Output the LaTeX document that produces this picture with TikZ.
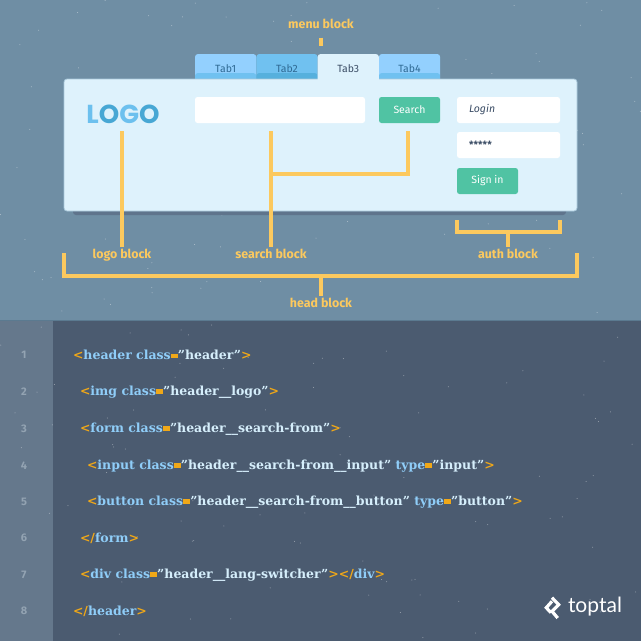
\documentclass[tikz,border=0pt]{standalone}
\usepackage{fontspec}
\usetikzlibrary{positioning}
\setsansfont{Fira Sans}
\newfontfamily\codefont{DejaVu Serif}
\newfontfamily\logofont{Poppins}
\newfontfamily\brandfont{Lato}

\definecolor{topbg}{HTML}{6F8EA4}
\definecolor{codebg}{HTML}{4B5B70}
\definecolor{gutterbg}{HTML}{65788C}
\definecolor{rulebg}{HTML}{5B7A90}
\definecolor{panelbg}{HTML}{DEF2FC}
\definecolor{panelrim}{HTML}{A9C8DA}
\definecolor{panelshade}{HTML}{5F748C}
\definecolor{tabA}{HTML}{93D0FE}
\definecolor{tabB}{HTML}{70C1F0}
\definecolor{tabC}{HTML}{56B0DD}
\definecolor{tabink}{HTML}{2F6A94}
\definecolor{darkink}{HTML}{3C4E66}
\definecolor{btn}{HTML}{50C3A3}
\definecolor{mark}{HTML}{FCC95E}
\definecolor{logoA}{HTML}{6CC0EE}
\definecolor{logoB}{HTML}{47A7D4}
\definecolor{brk}{HTML}{F0A818}
\definecolor{tagc}{HTML}{8FCDF8}
\definecolor{valc}{HTML}{D5EEFB}
\definecolor{numc}{HTML}{93A3B2}

\newcommand{\brk}[1]{\textcolor{brk}{#1}}
\newcommand{\tagc}[1]{\textcolor{tagc}{#1}}
\newcommand{\valc}[1]{\textcolor{valc}{#1}}
\newcommand{\eqbar}{\brk{\fontsize{8.5}{8}\selectfont\rlap{\rule[1.2pt]{7pt}{4.8pt}}=}}

\begin{document}
\begin{tikzpicture}[x=1pt,y=-1pt,font=\sffamily,
                    inner sep=0pt,outer sep=0pt]
  \tikzstyle{tabbox}=[minimum width=61.3pt,minimum height=29pt,rounded corners=3pt,
                      font=\sffamily\fontsize{10.5}{12}\selectfont]
  \tikzstyle{field}=[fill=white,rounded corners=2.5pt,minimum height=26pt]
  \tikzstyle{greenbtn}=[fill=btn,rounded corners=2.5pt,minimum height=26pt,
                        minimum width=61pt,text=white,
                        font=\sffamily\fontsize{10.5}{12}\selectfont]
  \tikzstyle{blocklabel}=[text=mark,inner sep=2pt,text height=9pt,text depth=3pt,
                          font=\sffamily\bfseries\fontsize{12.4}{14}\selectfont]
  \tikzstyle{blockline}=[draw=mark,line width=4pt]
  \tikzstyle{codeline}=[anchor=west,font=\codefont\bfseries\fontsize{12.5}{14}\selectfont]
  \tikzstyle{lineno}=[text=numc,font=\sffamily\bfseries\fontsize{11}{12}\selectfont]
  \tikzset{band/.style={path picture={\fill[#1] (path picture bounding box.south west)
      rectangle ([yshift=10pt]path picture bounding box.south east);}}}

  \useasboundingbox (0,0) rectangle (641,641);
  \fill[topbg] (0,0) rectangle (641,320);
  \fill[codebg] (0,320) rectangle (641,641);
  \fill[gutterbg] (0,320) rectangle (53,641);
  \fill[rulebg] (0,319.5) rectangle (641,321);

  % specks
  \pgfmathsetseed{4242}
  \foreach \i in {1,...,170} {
    \pgfmathsetmacro{\px}{rnd*641}
    \pgfmathsetmacro{\py}{rnd*641}
    \fill[white,opacity=0.45] (\px,\py) circle (0.5pt);
  }

  % tabs
  \node[tabbox,fill=tabA,text=tabink,band=tabB] (Tab1) at (225.65,68.5) {Tab1};
  \node[tabbox,fill=tabB,text=tabink,band=tabC] (Tab2) [right=0pt of Tab1] {Tab2};
  \node[tabbox,fill=tabA,text=tabink,band=tabB] (Tab4) [right=61.3pt of Tab2] {Tab4};

  % panel
  \fill[panelshade,rounded corners=3pt] (73,200) rectangle (566,215);
  \node[fill=panelbg,draw=panelrim,line width=0.8pt,rounded corners=3pt,
        minimum width=513pt,minimum height=132pt] (panel) at (320.5,145) {};
  \node[tabbox,fill=panelbg,text=darkink] (Tab3) [right=0pt of Tab2] {Tab3};

  % logo, search, auth
  \node (logo) at (123,114) {\logofont\bfseries\fontsize{26}{26}\selectfont
    \textcolor{logoA}{L}\textcolor{logoB}{O}\textcolor{logoA}{G}\textcolor{logoB}{O}};
  \node[field,minimum width=170pt] (searchfield) at (280,110) {};
  \node[greenbtn] (searchbtn) [right=14pt of searchfield] {Search};
  \node[field,minimum width=103pt,text=darkink,
        font=\sffamily\itshape\fontsize{10.5}{12}\selectfont,
        text width=79pt,align=left] (login) at (508.5,110) {Login};
  \node[field,minimum width=103pt,text=darkink,
        font=\sffamily\bfseries\fontsize{10}{12}\selectfont,
        text width=79pt,align=left] (password) [below=9pt of login] {*****};
  \node[greenbtn] (signin) at (487.5,181) {Sign in};

  % block labels
  \node[blocklabel] (menulabel) at (321,25.5) {menu block};
  \node[blocklabel] (logolabel) at (122,255) {logo block};
  \node[blocklabel] (searchlabel) at (271,255) {search block};
  \node[blocklabel] (authlabel) at (508,255) {auth block};
  \node[blocklabel] (headlabel) at (321,304) {head block};

  \coordinate (menuend) at (321,46);
  \coordinate (logotop) at (122,131);
  \coordinate (searchtop) at (271,131);
  \coordinate (btntop) at (408,131);
  \coordinate (searchjoin) at (271,174);
  \coordinate (authL) at (457,220);
  \coordinate (authmid) at (508,232);
  \coordinate (authR) at (560,220);
  \coordinate (headL) at (64,253);
  \coordinate (headmid) at (321,276);
  \coordinate (headR) at (577,253);

  \draw[blockline] (menulabel.south) ++(0,4) -- (menuend);
  \draw[blockline] (logotop) -- (logolabel.north);
  \draw[blockline] (searchtop) -- (searchlabel.north);
  \draw[blockline] (btntop) |- (searchjoin);
  \draw[blockline] (authL) |- (authmid) -| (authR);
  \draw[blockline] (authmid) -- (authlabel.north);
  \draw[blockline] (headL) |- (headmid) -| (headR);
  \draw[blockline] (headmid) -- (headlabel.north);

  % line numbers
  \foreach \n/\ypos in {1/355,2/392,3/429,4/466,5/502,6/538,7/575,8/611}
    \node[lineno] (num\n) at (24,\ypos) {\n};

  % code
  \node[codeline] (code1) at (73,355) {\brk{<}\tagc{header class}\eqbar\valc{”header”}\brk{>}};
  \node[codeline] (code2) at (80,392) {\brk{<}\tagc{img class}\eqbar\valc{”header\_\_logo”}\brk{>}};
  \node[codeline] (code3) at (80,429) {\brk{<}\tagc{form class}\eqbar\valc{”header\_\_search-from”}\brk{>}};
  \node[codeline] (code4) at (87,466) {\brk{<}\tagc{input class}\eqbar\valc{”header\_\_search-from\_\_input”} \tagc{type}\eqbar\valc{”input”}\brk{>}};
  \node[codeline] (code5) at (87,502) {\brk{<}\tagc{button class}\eqbar\valc{”header\_\_search-from\_\_button”} \tagc{type}\eqbar\valc{”button”}\brk{>}};
  \node[codeline] (code6) at (80,538) {\brk{</}\tagc{form}\brk{>}};
  \node[codeline] (code7) at (80,575) {\brk{<}\tagc{div class}\eqbar\valc{”header\_\_lang-switcher”}\brk{></}\tagc{div}\brk{>}};
  \node[codeline] (code8) at (73,611) {\brk{</}\tagc{header}\brk{>}};

  % brand
  \node[text=white,anchor=west,font=\brandfont\fontsize{21}{21}\selectfont] (brand) at (568,607) {toptal};
  \draw[white,line width=3.2pt,miter limit=10] (552,597.7) -- (558.7,604.7) -- (552,611.3) -- (557.7,618);
  \draw[white,line width=3.2pt,miter limit=10] (552,601.3) -- (546.3,607.7) -- (551,612.7);
\end{tikzpicture}
\end{document}
